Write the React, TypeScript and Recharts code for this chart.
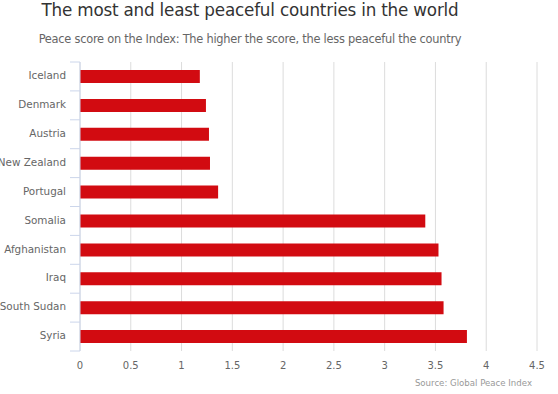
import { BarChart, Bar, XAxis, YAxis, CartesianGrid } from 'recharts'

const countries = [
  'Iceland',
  'Denmark',
  'Austria',
  'New Zealand',
  'Portugal',
  'Somalia',
  'Afghanistan',
  'Iraq',
  'South Sudan',
  'Syria',
]
const scores = [1.18, 1.24, 1.27, 1.28, 1.36, 3.4, 3.53, 3.56, 3.58, 3.81]
const scoreTicks = [0, 0.5, 1, 1.5, 2, 2.5, 3, 3.5, 4, 4.5]

const chartData = countries.map((name, i) => ({ name, score: scores[i] }))

const W = 558
const H = 394
const TOP = 62
const BOTTOM = 13
const X_AXIS_H = 30
const BAND = (H - TOP - BOTTOM - X_AXIS_H) / countries.length
const FONT = '"DejaVu Sans", sans-serif'

function CountryTick(props: any) {
  const { x, y, payload, index } = props
  const half = BAND / 2
  return (
    <g>
      <line x1={x + 4} x2={x + 14} y1={y - half} y2={y - half} stroke="#ccd6eb" />
      {index === countries.length - 1 && (
        <line x1={x + 4} x2={x + 14} y1={y + half} y2={y + half} stroke="#ccd6eb" />
      )}
      <text
        x={x}
        y={y - 1}
        dy="0.355em"
        textAnchor="end"
        fill="#666666"
        fontSize={10.4}
        fontFamily={FONT}
      >
        {payload.value}
      </text>
    </g>
  )
}

export default function App() {
  return (
    <div style={{ position: 'absolute', left: 0, top: 0, width: W, height: H, background: '#fff' }}>
      <BarChart
        width={W}
        height={H}
        data={chartData}
        layout="vertical"
        margin={{ top: TOP, right: 21, bottom: BOTTOM, left: 0 }}
      >
        <CartesianGrid horizontal={false} stroke="#dcdcdc" />
        <XAxis
          type="number"
          domain={[0, 4.5]}
          ticks={scoreTicks}
          height={X_AXIS_H}
          tickLine={false}
          axisLine={false}
          tickSize={0}
          tickMargin={11}
          tick={{ fill: '#666666', fontSize: 10, fontFamily: FONT }}
        />
        <YAxis
          type="category"
          dataKey="name"
          width={80}
          tickLine={false}
          axisLine={{ stroke: '#ccd6eb' }}
          tickSize={0}
          tickMargin={14}
          interval={0}
          tick={<CountryTick />}
        />
        <Bar dataKey="score" fill="#d20b11" barSize={13} isAnimationActive={false} />
      </BarChart>
      <svg
        width={W}
        height={H}
        style={{ position: 'absolute', left: 0, top: 0, pointerEvents: 'none' }}
      >
        <text
          x={250}
          y={15.7}
          textAnchor="middle"
          fill="#333333"
          fontSize={16.8}
          letterSpacing={-0.2}
          fontFamily={FONT}
        >
          The most and least peaceful countries in the world
        </text>
        <text
          x={250}
          y={43.3}
          textAnchor="middle"
          fill="#666666"
          fontSize={11.4}
          letterSpacing={-0.25}
          fontFamily={FONT}
        >
          Peace score on the Index: The higher the score, the less peaceful the country
        </text>
        <text x={532} y={386} textAnchor="end" fill="#999999" fontSize={8.6} fontFamily={FONT}>
          Source: Global Peace Index
        </text>
      </svg>
    </div>
  )
}
